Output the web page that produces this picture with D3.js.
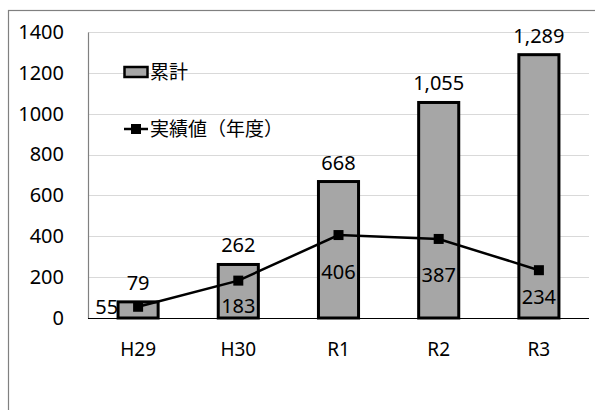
<!DOCTYPE html>
<html>
<head>
  <meta charset="utf-8">
  <script src="https://cdn.jsdelivr.net/npm/d3@7"></script>
  <style>
    body { margin: 0; background: #fff; }
    text { font-family: "Noto Sans", "Noto Sans CJK JP", sans-serif; fill: #000; }
  </style>
</head>
<body>
<svg id="chart"></svg>
<script>
  // data
  var years = ["H29", "H30", "R1", "R2", "R3"];
  var cumulative = [79, 262, 668, 1055, 1289];   // 累計 (bars)
  var annual = [55, 183, 406, 387, 234];         // 実績値（年度） (line)
  var yTicks = [0, 200, 400, 600, 800, 1000, 1200, 1400];
  var seriesNames = ["累計", "実績値（年度）"];

  // label nudges for the line values (Excel had them dragged by hand)
  var annualLabelDy = [7, 32, 44, 43, 34];

  var width = 595, height = 410;
  var svg = d3.select("#chart").attr("width", width).attr("height", height);

  // outer chart border (only top and left are inside the window)
  svg.append("rect")
    .attr("x", 8.5).attr("y", 10.5)
    .attr("width", 600).attr("height", 420)
    .attr("fill", "none").attr("stroke", "#808080").attr("stroke-width", 1.2);

  // note: "top" would clash with window.top
  var plotLeft = 88, plotRight = 589, plotTop = 32, plotBottom = 318;

  var x = d3.scaleBand().domain(years).range([plotLeft, plotRight]).paddingInner(0.6).paddingOuter(0.3);
  var y = d3.scaleLinear().domain([0, 1400]).range([plotBottom, plotTop]);

  // gridlines
  svg.append("g").selectAll("line")
    .data(yTicks.filter(d => d > 0)).enter()
    .append("line")
    .attr("x1", plotLeft).attr("x2", plotRight)
    .attr("y1", d => Math.round(y(d)) + 0.5).attr("y2", d => Math.round(y(d)) + 0.5)
    .attr("stroke", "#d9d9d9").attr("stroke-width", 1);

  // y axis
  var yAxis = svg.append("g")
    .attr("transform", "translate(" + plotLeft + ",0)")
    .call(d3.axisLeft(y).tickValues(yTicks).tickSize(0).tickPadding(24).tickFormat(d3.format("d")));
  yAxis.select(".domain").attr("stroke", "#808080").attr("stroke-width", 1.2);
  yAxis.selectAll("text").style("font-size", "20px");

  // x axis
  var xAxis = svg.append("g")
    .attr("transform", "translate(0," + plotBottom + ")")
    .call(d3.axisBottom(x).tickSize(0).tickPadding(25));
  xAxis.select(".domain").remove();
  xAxis.selectAll("text").style("font-size", "19px");

  // bars
  svg.append("g").selectAll("rect")
    .data(cumulative).enter()
    .append("rect")
    .attr("x", (d, i) => x(years[i]))
    .attr("y", d => y(d))
    .attr("width", x.bandwidth())
    .attr("height", d => plotBottom - y(d))
    .attr("fill", "#a6a6a6")
    .attr("stroke", "#000")
    .attr("stroke-width", 3);

  // baseline
  svg.append("line")
    .attr("x1", plotLeft).attr("x2", plotRight)
    .attr("y1", plotBottom + 0.5).attr("y2", plotBottom + 0.5)
    .attr("stroke", "#000").attr("stroke-width", 1.2);

  // bar labels
  svg.append("g").selectAll("text")
    .data(cumulative).enter()
    .append("text")
    .attr("x", (d, i) => x(years[i]) + x.bandwidth() / 2)
    .attr("y", d => y(d) - 12)
    .attr("text-anchor", "middle")
    .style("font-size", "20px")
    .text(d => d3.format(",")(d));

  // line series
  var cx = (d, i) => x(years[i]) + x.bandwidth() / 2;
  var line = d3.line().x(cx).y(d => y(d));
  svg.append("path")
    .datum(annual)
    .attr("d", line)
    .attr("fill", "none")
    .attr("stroke", "#000")
    .attr("stroke-width", 2.5);

  svg.append("g").selectAll("rect")
    .data(annual).enter()
    .append("rect")
    .attr("x", (d, i) => cx(d, i) - 5)
    .attr("y", d => y(d) - 5)
    .attr("width", 10).attr("height", 10)
    .attr("fill", "#000");

  // line labels: first one to the left, the rest below
  svg.append("g").selectAll("text")
    .data(annual).enter()
    .append("text")
    .attr("x", (d, i) => i == 0 ? cx(d, i) - 20 : cx(d, i))
    .attr("y", (d, i) => y(d) + annualLabelDy[i])
    .attr("text-anchor", (d, i) => i == 0 ? "end" : "middle")
    .style("font-size", "20px")
    .text(d => d);

  // legend
  var lg = svg.append("g").attr("transform", "translate(124,0)");
  lg.append("rect")
    .attr("x", 0.5).attr("y", 67).attr("width", 23).attr("height", 10)
    .attr("fill", "#a6a6a6").attr("stroke", "#000").attr("stroke-width", 2.5);
  lg.append("text").attr("x", 26).attr("y", 79).style("font-size", "19px").text(seriesNames[0]);
  lg.append("line")
    .attr("x1", 0).attr("x2", 24).attr("y1", 129).attr("y2", 129)
    .attr("stroke", "#000").attr("stroke-width", 2.5);
  lg.append("rect").attr("x", 7).attr("y", 124).attr("width", 10).attr("height", 10).attr("fill", "#000");
  lg.append("text").attr("x", 26).attr("y", 136).style("font-size", "19px").text(seriesNames[1]);
</script>
</body>
</html>
